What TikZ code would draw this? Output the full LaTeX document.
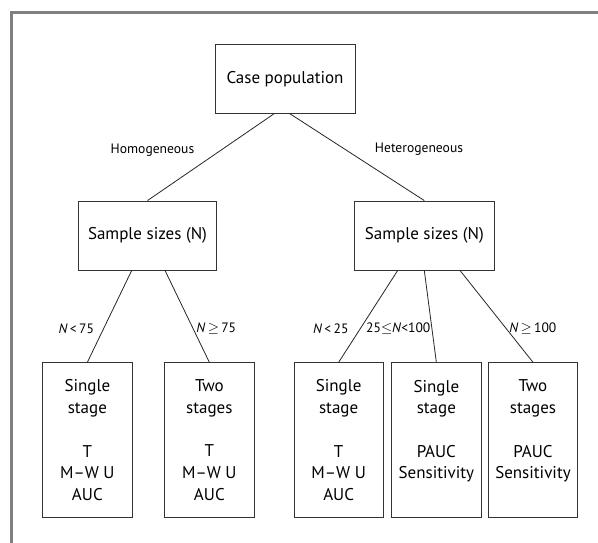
\documentclass[tikz,border=0pt]{standalone}
\usepackage{fontspec}
\setmainfont{PT Sans}
\begin{document}
\begin{tikzpicture}[x=1pt,y=-1pt,
    caja/.style={draw=black!80, line width=0.9pt, align=center, font=\fontsize{17}{21.7}\selectfont},
    hoja/.style={caja, minimum width=89.3pt, minimum height=155pt, anchor=north},
    rama/.style={font=\fontsize{13.6}{16}\selectfont},
    linea/.style={draw=black!85, line width=0.8pt}]
    % Marco
    \useasboundingbox (0,0) rectangle (598,543);
    \draw[black!50, line width=3pt] (11.5,543) -- (11.5,12.5) -- (598,12.5);

    % Nodos superiores
    \node[caja, minimum width=140pt, minimum height=69.3pt] (pob) at (285,78.7) {Case population};
    \node[caja, minimum width=138.5pt, minimum height=69pt] (homo) at (147.5,235.5) {Sample sizes (N)};
    \node[caja, minimum width=139.5pt, minimum height=69pt] (hetero) at (424.3,235.5) {Sample sizes (N)};

    % Hojas
    \node[hoja] (h1) at (87.35,362.3) {Single\\stage\\[21.7pt]T\\M--W U\\AUC};
    \node[hoja] (h2) at (209.35,362.3) {Two\\stages\\[21.7pt]T\\M--W U\\AUC};
    \node[hoja] (h3) at (338.65,362.3) {Single\\stage\\[21.7pt]T\\M--W U\\AUC};
    \node[hoja] (h4) at (436.35,362.3) {Single\\stage\\[21.7pt]PAUC\\Sensitivity\\~};
    \node[hoja] (h5) at (533,362.3) {Two\\stages\\[21.7pt]PAUC\\Sensitivity\\~};

    % Ramas
    \draw[linea] ([xshift=-11pt]pob.south) -- (homo.north);
    \draw[linea] ([xshift=5pt]pob.south) -- (hetero.north);
    \draw[linea] ([xshift=-15.8pt]homo.south) -- (h1.north);
    \draw[linea] ([xshift=17.5pt]homo.south) -- (h2.north);
    \draw[linea] ([xshift=-26.6pt]hetero.south) -- (h3.north);
    \draw[linea] (hetero.south) -- (h4.north);
    \draw[linea] ([xshift=35.7pt]hetero.south) -- (h5.north);

    % Etiquetas
    \node[rama] (lhomo) at (152.5,150) {Homogeneous};
    \node[rama] (lhetero) at (419,149) {Heterogeneous};
    \node[rama] (l1) at (76.3,328.3) {\textit{N}\,<\,75};
    \node[rama] (l2) at (216.3,328.3) {\textit{N}\,$\geq$\,75};
    \node[rama] (l3) at (330.8,328.3) {\textit{N}\,<\,25};
    \node[rama] (l4) at (398.3,328.3) {25$\leq$\textit{N}<100};
    \node[rama] (l5) at (532.8,328.3) {\textit{N}\,$\geq$\,100};
\end{tikzpicture}
\end{document}
